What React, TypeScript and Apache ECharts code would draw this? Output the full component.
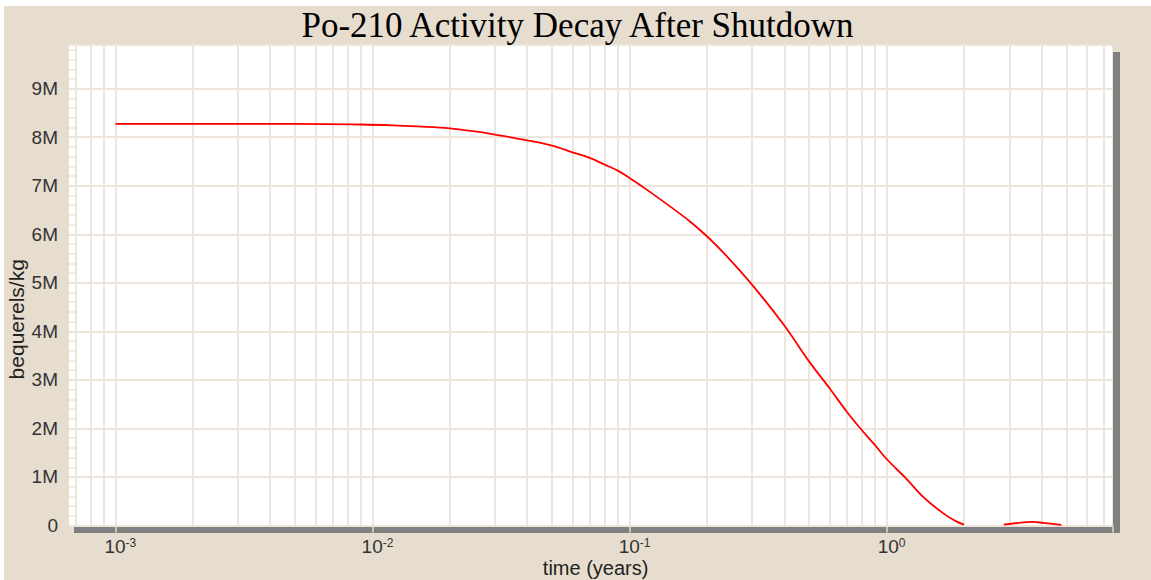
import React, { useEffect, useRef } from "react";
import * as echarts from "echarts";

// time after shutdown (years)
const timeYears = [
  0.001, 0.005, 0.009, 0.012, 0.015, 0.02, 0.025, 0.03, 0.04, 0.05,
  0.06, 0.07, 0.08, 0.09, 0.1, 0.1167, 0.1436, 0.1718, 0.2, 0.2382,
  0.3, 0.4, 0.5, 0.6, 0.7, 0.8, 0.9, 1.0, 1.19, 1.387,
  1.662, 1.874, 2.0, 2.4, 2.856, 3.105, 3.714, 4.062, 4.786,
];
// Po-210 activity (Bq/kg)
const activity = [
  8.275e6, 8.275e6, 8.262e6, 8.245e6, 8.222e6, 8.184e6, 8.12e6, 8.054e6, 7.937e6, 7.827e6,
  7.689e6, 7.573e6, 7.435e6, 7.311e6, 7.16e6, 6.92e6, 6.575e6, 6.265e6, 5.96e6, 5.557e6,
  4.959e6, 4.12e6, 3.376e6, 2.827e6, 2.344e6, 1.967e6, 1.66e6, 1.37e6, 0.97e6, 0.59e6,
  0.25e6, 0.08e6, 0.02e6, null, 0.02e6, 0.041e6, 0.074e6, 0.054e6, 0.012e6,
];

// vertical grid lines: multipliers of each decade
const gridDecades = [0.0001, 0.001, 0.01, 0.1, 1];
const gridMultipliers = [1, 2, 3, 4, 5, 6, 7, 8, 9];

const X_MIN = 0.00066;
const X_MAX = 7.55;
const Y_MAX = 9.9e6;

const titleText = "Po-210 Activity Decay After Shutdown";
const xName = "time (years)";
const yName = "bequerels/kg";

const BG = "#E6DDCF";
const GRID = "#EDE5D9";
const SHADOW = "#808080";

export default function App() {
  const ref = useRef<HTMLDivElement>(null);

  useEffect(() => {
    if (!ref.current) return;
    const chart = echarts.init(ref.current, undefined, { renderer: "svg" });

    const gridX: number[] = [];
    gridDecades.forEach((d) =>
      gridMultipliers.forEach((m) => {
        const v = d * m;
        if (v > X_MIN && v < X_MAX) gridX.push(v);
      })
    );

    const seriesData = timeYears.map((t, i) => [t, activity[i]]);

    const option: any = {
      animation: false,
      backgroundColor: BG,
      title: {
        text: titleText,
        left: "center",
        top: 2,
        padding: 0,
        textStyle: {
          fontFamily: "Liberation Serif",
          fontSize: 35,
          fontWeight: "normal",
          color: "#000",
        },
      },
      grid: {
        left: 65,
        top: 39,
        right: 38.7,
        bottom: 54.5,
        show: true,
        backgroundColor: "#FFFFFF",
        borderWidth: 0,
        containLabel: false,
        outerBoundsMode: "none",
      },
      graphic: [
        {
          type: "rect",
          z: -1,
          shape: { x: 1109, y: 46, width: 7, height: 481 },
          style: { fill: SHADOW },
        },
        {
          type: "rect",
          z: -1,
          shape: { x: 70, y: 520, width: 1046, height: 7 },
          style: { fill: SHADOW },
        },
      ],
      xAxis: {
        type: "log",
        logBase: 10,
        min: X_MIN,
        max: X_MAX,
        name: xName,
        nameLocation: "middle",
        nameGap: 32,
        nameMoveOverlap: false,
        nameTextStyle: {
          fontFamily: "Liberation Sans",
          fontSize: 20,
          color: "#222",
          padding: [0, 0, 0, 10],
        },
        axisLine: { show: false },
        axisTick: { show: true, length: 7, lineStyle: { color: "#E2DBD1", width: 1.5 } },
        splitLine: { show: false },
        axisLabel: {
          margin: 11,
          color: "#333",
          formatter: (v: number) => {
            const l = Math.log10(v);
            const e = Math.round(l);
            if (Math.abs(l - e) > 1e-6) return "";
            return `{b|10}{s|${e}}`;
          },
          rich: {
            b: { fontFamily: "Liberation Sans", fontSize: 19, color: "#333", padding: [0, 0, 0, 10] },
            s: { fontFamily: "Liberation Sans", fontSize: 12, color: "#333", verticalAlign: "top" },
          },
        },
      },
      yAxis: [
        {
          type: "value",
          min: 0,
          max: Y_MAX,
          interval: 1e6,
          name: yName,
          nameLocation: "middle",
          nameGap: 42,
          nameMoveOverlap: false,
          nameTextStyle: {
            fontFamily: "Liberation Sans",
            fontSize: 21,
            color: "#222",
            padding: [0, 68, 0, 0],
          },
          axisLine: { show: false },
          axisTick: { show: false },
          splitLine: { show: true, lineStyle: { color: GRID, width: 2 } },
          axisLabel: {
            margin: 11,
            fontFamily: "Liberation Sans",
            fontSize: 19,
            color: "#333",
            formatter: (v: number) => {
              if (Math.abs(v % 1e6) > 1) return "";
              return v === 0 ? "0" : `${Math.round(v / 1e6)}M`;
            },
          },
        },
        {
          type: "value",
          min: 0,
          max: Y_MAX,
          interval: 0.2e6,
          position: "left",
          axisLine: { show: false },
          axisTick: { show: true, inside: true, length: 7, lineStyle: { color: GRID, width: 1.5 } },
          axisLabel: { show: false },
          splitLine: { show: false },
        },
      ],
      series: [
        {
          type: "line",
          z: 1,
          data: [],
          silent: true,
          markLine: {
            silent: true,
            z: 1,
            precision: 10,
            symbol: ["none", "none"],
            label: { show: false },
            lineStyle: { color: GRID, width: 2, type: "solid" },
            data: gridX.map((v) => ({ xAxis: v })),
          },
        },
        {
          type: "line",
          z: 3,
          data: seriesData,
          showSymbol: false,
          connectNulls: false,
          smooth: 0.35,
          lineStyle: { color: "#FF0000", width: 1.8 },
          itemStyle: { color: "#FF0000" },
        },
      ],
    };

    chart.setOption(option);
    return () => chart.dispose();
  }, []);

  return (
    <div
      ref={ref}
      style={{ position: "absolute", left: 4, top: 6, width: 1147, height: 574 }}
    />
  );
}
